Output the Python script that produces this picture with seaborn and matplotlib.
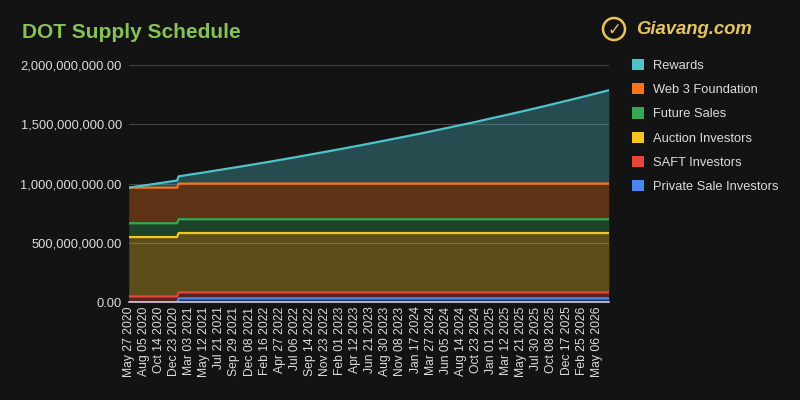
import matplotlib
matplotlib.use('Agg')

import matplotlib.pyplot as plt
from matplotlib.patches import Patch, Ellipse
from matplotlib.ticker import FuncFormatter
import seaborn as sns
import pandas as pd
import numpy as np

# weekly schedule, sampled at the axis tick dates plus the step in jan 2021 and the last week
dates = ['2020-05-27', '2020-08-05', '2020-10-14', '2020-12-23', '2021-01-06', '2021-01-13',
         '2021-03-03', '2021-05-12', '2021-07-21', '2021-09-29', '2021-12-08',
         '2022-02-16', '2022-04-27', '2022-07-06', '2022-09-14', '2022-11-23',
         '2023-02-01', '2023-04-12', '2023-06-21', '2023-08-30', '2023-11-08',
         '2024-01-17', '2024-03-27', '2024-06-05', '2024-08-14', '2024-10-23',
         '2025-01-01', '2025-03-12', '2025-05-21', '2025-07-30', '2025-10-08',
         '2025-12-17', '2026-02-25', '2026-05-06', '2026-07-01']

# millions of DOT, bottom of the stack first
private_sale = [0] * 5 + [34] * 30
saft = [50] * 35
auction = [500] * 35
future_sales = [116] * 35
web3 = [300] * 35
rewards = [0, 18, 37, 56, 60, 61,
           75, 94, 115, 135, 156, 177, 199, 221, 244, 267,
           290, 314, 338, 363, 388, 413, 439, 466, 493, 520,
           549, 577, 606, 636, 666, 697, 728, 760, 786]

series_names = ['Private Sale Investors', 'SAFT Investors', 'Auction Investors',
                'Future Sales', 'Web 3 Foundation', 'Rewards']
colors = ['#4a86f0', '#e8453c', '#f6c523', '#34a853', '#fa7317', '#4fc3cc']

tick_dates = ['2020-05-27', '2020-08-05', '2020-10-14', '2020-12-23', '2021-03-03',
              '2021-05-12', '2021-07-21', '2021-09-29', '2021-12-08', '2022-02-16',
              '2022-04-27', '2022-07-06', '2022-09-14', '2022-11-23', '2023-02-01',
              '2023-04-12', '2023-06-21', '2023-08-30', '2023-11-08', '2024-01-17',
              '2024-03-27', '2024-06-05', '2024-08-14', '2024-10-23', '2025-01-01',
              '2025-03-12', '2025-05-21', '2025-07-30', '2025-10-08', '2025-12-17',
              '2026-02-25', '2026-05-06']
tick_labels = ['May 27 2020', 'Aug 05 2020', 'Oct 14 2020', 'Dec 23 2020', 'Mar 03 2021',
               'May 12 2021', 'Jul 21 2021', 'Sep 29 2021', 'Dec 08 2021', 'Feb 16 2022',
               'Apr 27 2022', 'Jul 06 2022', 'Sep 14 2022', 'Nov 23 2022', 'Feb 01 2023',
               'Apr 12 2023', 'Jun 21 2023', 'Aug 30 2023', 'Nov 08 2023', 'Jan 17 2024',
               'Mar 27 2024', 'Jun 05 2024', 'Aug 14 2024', 'Oct 23 2024', 'Jan 01 2025',
               'Mar 12 2025', 'May 21 2025', 'Jul 30 2025', 'Oct 08 2025', 'Dec 17 2025',
               'Feb 25 2026', 'May 06 2026']
y_ticks = [0, 500e6, 1000e6, 1500e6, 2000e6]

bg = '#131313'
text_col = '#dcdcdc'

sns.set_theme(style='dark', rc={'axes.facecolor': bg, 'figure.facecolor': bg})
plt.rcParams['font.family'] = ['Liberation Sans', 'DejaVu Sans']

df = pd.DataFrame({'date': pd.to_datetime(dates)})
values = [private_sale, saft, auction, future_sales, web3, rewards]
for name, vals in zip(series_names, values):
    df[name] = np.array(vals) * 1e6
stacked = df[series_names].cumsum(axis=1)
stacked['date'] = df['date']
long_df = stacked.melt(id_vars='date', var_name='series', value_name='total')

fig = plt.figure(figsize=(8, 4), dpi=100)
ax = fig.add_axes([0.161, 0.244, 0.6, 0.594])

lower = np.zeros(len(df))
for name, col in zip(series_names, colors):
    upper = stacked[name].values
    ax.fill_between(df['date'], lower, upper, color=col, alpha=0.33, linewidth=0, zorder=1)
    lower = upper

sns.lineplot(data=long_df, x='date', y='total', hue='series', palette=dict(zip(series_names, colors)),
             linewidth=1.6, legend=False, ax=ax, zorder=3)

ax.set_xlim(df['date'].iloc[0], df['date'].iloc[-1])
ax.set_ylim(0, 2.0e9)
ax.set_yticks(y_ticks)
ax.yaxis.set_major_formatter(FuncFormatter(lambda v, _: f'{v:,.2f}'))
ax.set_xticks(pd.to_datetime(tick_dates))
ax.set_xticklabels(tick_labels, rotation=90)
ax.set_xlabel('')
ax.set_ylabel('')
ax.tick_params(axis='y', length=0, pad=5, labelsize=9.3, labelcolor=text_col)
ax.tick_params(axis='x', length=0, pad=3, labelsize=8.7, labelcolor=text_col)
ax.grid(axis='y', color='#444444', linewidth=0.8)
ax.grid(axis='x', visible=False)
for side in ['top', 'right', 'left']:
    ax.spines[side].set_visible(False)
ax.spines['bottom'].set_color('#c8c8d8')
ax.spines['bottom'].set_linewidth(1.2)
ax.spines['bottom'].set_zorder(4)

# legend, top of the stack first
handles = [Patch(facecolor=c, edgecolor='none') for c in colors[::-1]]
leg = fig.legend(handles, series_names[::-1], loc='upper left', bbox_to_anchor=(0.783, 0.865),
                 frameon=False, fontsize=9.3, labelcolor=text_col, handlelength=0.95,
                 handleheight=0.95, handletextpad=0.72, labelspacing=0.86, borderaxespad=0)

fig.text(0.027, 0.92, 'DOT Supply Schedule', fontsize=15, fontweight='bold', color='#86c25a',
         va='center', ha='left')

# logo
gold = '#e5c462'
logo = Ellipse((0.7675, 0.9275), 22 / 800, 22 / 400, transform=fig.transFigure,
               facecolor='none', edgecolor=gold, linewidth=1.8)
fig.patches.append(logo)
fig.text(0.768, 0.925, '\u2713', fontsize=12, fontweight='bold', color=gold,
         ha='center', va='center', family=['DejaVu Sans'])
fig.text(0.795, 0.927, 'Giavang.com', fontsize=13.3, fontweight='bold', fontstyle='italic',
         color=gold, ha='left', va='center')

plt.savefig('out.png', dpi=100, facecolor=bg)
